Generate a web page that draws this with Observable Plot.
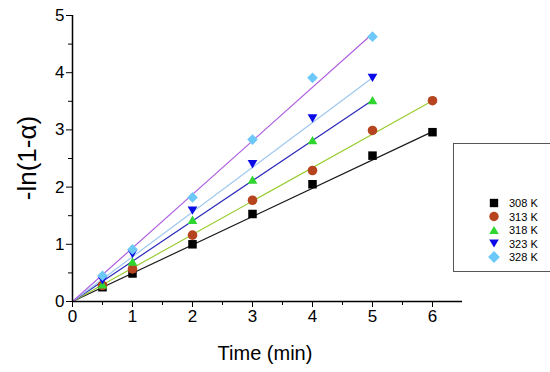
<!DOCTYPE html>
<html><head><meta charset="utf-8">
<script src="https://cdn.jsdelivr.net/npm/d3@7"></script>
<script src="https://cdn.jsdelivr.net/npm/@observablehq/plot@0.6"></script>
<style>
body{margin:0;background:#fff;font-family:"Liberation Sans",Arial,sans-serif;}
#wrap{position:relative;width:550px;height:372px;}
#legend{position:absolute;left:453px;top:143px;width:110px;height:129px;border:1px solid #555;box-sizing:border-box;}
</style>
</head><body>
<div id="wrap"></div>
<script>
const times = [0.5, 1, 2, 3, 4, 5, 6];
const seriesNames = ["308 K", "313 K", "318 K", "323 K", "328 K"];
const v308 = [0.25, 0.49, 1.00, 1.53, 2.05, 2.55, 2.96];
const v313 = [0.28, 0.57, 1.16, 1.77, 2.29, 2.99, 3.51];
const v318 = [0.30, 0.70, 1.43, 2.13, 2.82, 3.52];
const v323 = [0.37, 0.83, 1.59, 2.40, 3.20, 3.91];
const v328 = [0.45, 0.91, 1.82, 2.83, 3.91, 4.63];
const fitEndT = [6, 6, 5, 5, 5];
const fitEndY = [2.97, 3.51, 3.52, 3.91, 4.68];
const xTicks = [0, 1, 2, 3, 4, 5, 6];
const yTicks = [0, 1, 2, 3, 4, 5];

const markerColors = ["#000000", "#b5441f", "#2fd62f", "#0a0ae6", "#6cc8f8"];
const lineColors = ["#1a1a1a", "#9acd32", "#2a2ab8", "#9ec8ee", "#b061e0"];
const downTri = {draw(ctx, size){const s=Math.sqrt(size*1.3);ctx.moveTo(-s/2,-s*0.43);ctx.lineTo(s/2,-s*0.43);ctx.lineTo(0,s*0.43);ctx.closePath();}};
const upTri = {draw(ctx, size){const s=Math.sqrt(size*1.3);ctx.moveTo(-s/2,s*0.43);ctx.lineTo(s/2,s*0.43);ctx.lineTo(0,-s*0.43);ctx.closePath();}};
const symbols = ["square", "circle", upTri, downTri, "diamond2"];
const allVals = [v308, v313, v318, v323, v328];

const pts = [];
allVals.forEach((arr, i) => arr.forEach((y, j) => pts.push({s: i, t: times[j], y})));
const fits = [];
fitEndT.forEach((t, i) => { fits.push({s: i, t: 0, y: 0}); fits.push({s: i, t, y: fitEndY[i]}); });

const marks = [];
for (let i = 0; i < 5; i++) {
  marks.push(Plot.line(fits.filter(d => d.s === i), {x: "t", y: "y", stroke: lineColors[i], strokeWidth: 1.2}));
}
for (let i = 0; i < 5; i++) {
  marks.push(Plot.dot(pts.filter(d => d.s === i), {x: "t", y: "y", symbol: () => symbols[i], fill: markerColors[i], stroke: "none", r: 4.8}));
}
const minorX = d3.range(0.5, 6.5, 1);
const minorY = d3.range(0.5, 5, 1);
marks.push(
  Plot.ruleY([0], {stroke: "#000", strokeWidth: 1.5}),
  Plot.ruleX([0], {stroke: "#000", strokeWidth: 1.5}),
  Plot.axisX(xTicks, {tickSize: 6, fontSize: 17, tickPadding: 2, tickFormat: d3.format("d"), label: null}),
  Plot.axisX(minorX, {tickSize: 4, tickFormat: () => "", label: null}),
  Plot.axisY(yTicks, {tickSize: 6, fontSize: 17, tickPadding: 2, tickFormat: d3.format("d"), label: null}),
  Plot.axisY(minorY, {tickSize: 4, tickFormat: () => "", label: null})
);

const chart = Plot.plot({
  width: 550, height: 372,
  marginLeft: 72, marginRight: 88, marginTop: 15, marginBottom: 71,
  x: {domain: [0, 6.5]},
  y: {domain: [0, 5]},
  style: {fontFamily: "'Liberation Sans', Arial, sans-serif", color: "#000", background: "#fff"},
  marks
});
const wrap = document.getElementById("wrap");
wrap.appendChild(chart);

// axis titles
const svg = d3.select(chart);
svg.append("text").attr("x", 265).attr("y", 360).attr("text-anchor", "middle")
  .style("font-size", "20px").text("Time (min)");
svg.append("text").attr("transform", "translate(36,158) rotate(-90)").attr("text-anchor", "middle")
  .style("font-size", "26px").text("-ln(1-α)");

// legend
const leg = document.createElement("div");
leg.id = "legend";
wrap.appendChild(leg);
const ls = d3.select(leg).append("svg").attr("width", 110).attr("height", 129);
seriesNames.forEach((name, i) => {
  const y = 59 + i * 13.5;
  const sym = typeof symbols[i] === "string" ? {square: d3.symbolSquare, circle: d3.symbolCircle, diamond2: d3.symbolSquare}[symbols[i]] : symbols[i];
  ls.append("path").attr("d", d3.symbol(sym, 70)()).attr("fill", markerColors[i])
    .attr("transform", `translate(40,${y})` + (symbols[i] === "diamond2" ? " rotate(45)" : ""));
  ls.append("text").attr("x", 55).attr("y", y + 4).style("font-size", "11px").text(name);
});
</script>
</body></html>
